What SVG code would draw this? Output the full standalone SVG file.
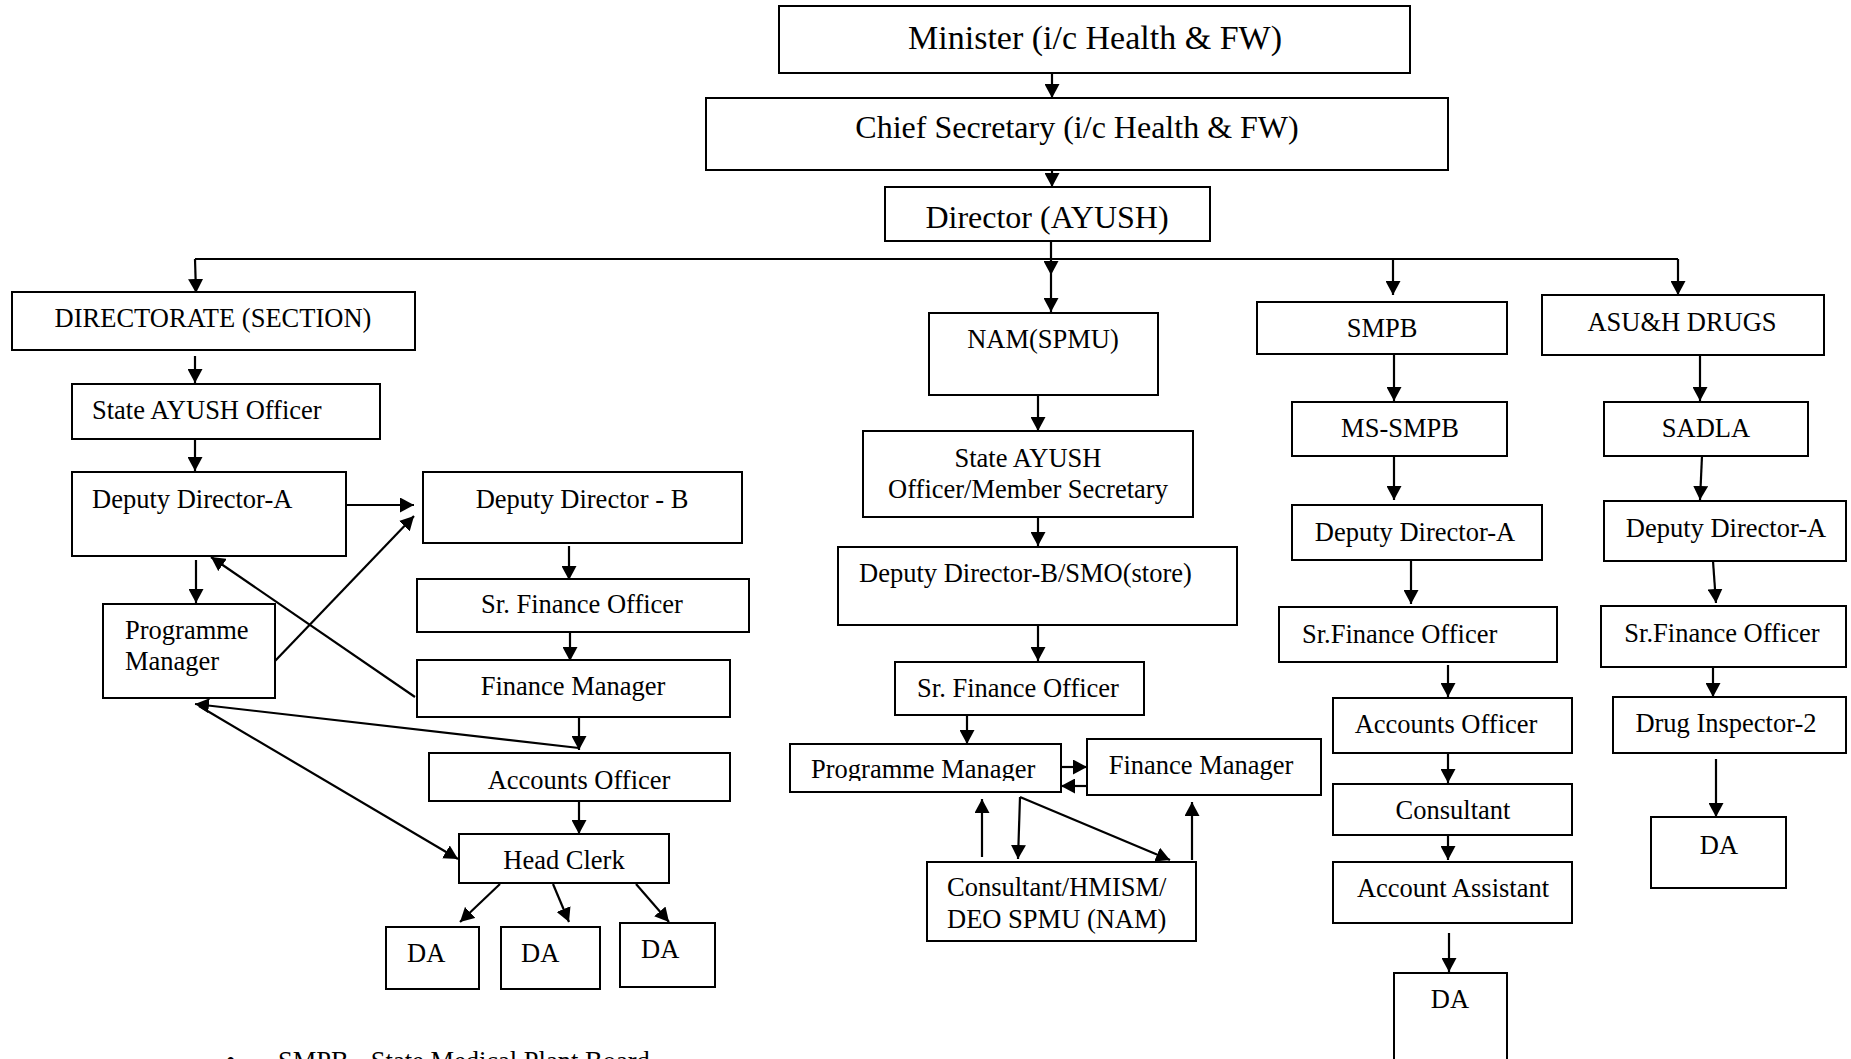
<svg xmlns="http://www.w3.org/2000/svg" width="1851" height="1059" viewBox="0 0 1851 1059">
<style>
rect.b{fill:#fff;stroke:#000;stroke-width:2}
text{font-family:"Liberation Serif","Times New Roman",serif;font-size:26.5px;fill:#000}
.c{text-anchor:middle}
#connectors path{fill:none;stroke:#000;stroke-width:2.2}
#connectors path.a{marker-end:url(#ah)}
</style>
<defs>
<marker id="ah" markerUnits="userSpaceOnUse" markerWidth="15" markerHeight="15" refX="14" refY="7.5" orient="auto">
<path d="M0,0 L14,7.5 L0,15 z" fill="#000"/>
</marker>
<clipPath id="pmclip"><rect x="790" y="744" width="271" height="37"/></clipPath>
</defs>
<rect width="1851" height="1059" fill="#fff"/>

<g id="connectors">
<path class="a" d="M1052,73 V98"/>
<path class="a" d="M1052,170 V187"/>
<path class="a" d="M1051,241 V275"/>
<path class="a" d="M1051,275 V312"/>
<path d="M195,259 H1678"/>
<path class="a" d="M195,259 L196,293"/>
<path class="a" d="M1393,259 V295"/>
<path class="a" d="M1678,259 V295"/>
<path class="a" d="M195,356 V383"/>
<path class="a" d="M195,439 V471"/>
<path class="a" d="M346,505 H414"/>
<path class="a" d="M196,560 V603"/>
<path class="a" d="M275,661 L414,516"/>
<path class="a" d="M415,697 L211,557"/>
<path class="a" d="M569,546 V580"/>
<path class="a" d="M570,632 V661"/>
<path class="a" d="M579,716 V750"/>
<path class="a" d="M579,748 L195,704"/>
<path class="a" d="M199,706 L458,859"/>
<path class="a" d="M579,801 V834"/>
<path class="a" d="M500,884 L460,922"/>
<path class="a" d="M553,884 L569,922"/>
<path class="a" d="M636,884 L669,922"/>
<path class="a" d="M1038,395 V431"/>
<path class="a" d="M1038,517 V546"/>
<path class="a" d="M1038,625 V661"/>
<path class="a" d="M967,715 V744"/>
<path class="a" d="M1061,767 H1087"/>
<path class="a" d="M1087,786 H1061"/>
<path class="a" d="M982,857 V799"/>
<path class="a" d="M1020,797 L1018,859"/>
<path class="a" d="M1020,797 L1170,860"/>
<path class="a" d="M1192,860 V802"/>
<path class="a" d="M1394,355 V401"/>
<path class="a" d="M1394,456 V500"/>
<path class="a" d="M1411,560 V604"/>
<path class="a" d="M1448,665 V697"/>
<path class="a" d="M1448,753 V783"/>
<path class="a" d="M1448,835 V860"/>
<path class="a" d="M1449,933 V972"/>
<path class="a" d="M1700,355 V401"/>
<path class="a" d="M1702,456 L1700,500"/>
<path class="a" d="M1713,561 L1716,603"/>
<path class="a" d="M1713,667 V697"/>
<path class="a" d="M1716,759 V817"/>
</g>

<g id="minister"><rect class="b" x="779" y="6" width="631" height="67"/><text class="c" x="1095" y="49" style="font-size:34px">Minister (i/c Health &amp; FW)</text></g>
<g id="chief"><rect class="b" x="706" y="98" width="742" height="72"/><text class="c" x="1077" y="138" style="font-size:32px">Chief Secretary (i/c Health &amp; FW)</text></g>
<g id="director"><rect class="b" x="885" y="187" width="325" height="54"/><text class="c" x="1047" y="228" style="font-size:32px">Director (AYUSH)</text></g>

<g id="directorate"><rect class="b" x="12" y="292" width="403" height="58"/><text class="c" x="213" y="327">DIRECTORATE (SECTION)</text></g>
<g id="sao1"><rect class="b" x="72" y="384" width="308" height="55"/><text x="92" y="419">State AYUSH Officer</text></g>
<g id="dda1"><rect class="b" x="72" y="472" width="274" height="84"/><text x="92" y="508">Deputy Director-A</text></g>
<g id="ddb1"><rect class="b" x="423" y="472" width="319" height="71"/><text class="c" x="582" y="508">Deputy Director - B</text></g>
<g id="srfo1"><rect class="b" x="417" y="579" width="332" height="53"/><text class="c" x="582" y="613">Sr. Finance Officer</text></g>
<g id="fm1"><rect class="b" x="417" y="660" width="313" height="57"/><text class="c" x="573" y="695">Finance Manager</text></g>
<g id="pm1"><rect class="b" x="103" y="604" width="172" height="94"/><text x="125" y="639">Programme</text><text x="125" y="670">Manager</text></g>
<g id="ao1"><rect class="b" x="429" y="753" width="301" height="48"/><text class="c" x="579" y="789">Accounts Officer</text></g>
<g id="hc1"><rect class="b" x="459" y="834" width="210" height="49"/><text class="c" x="564" y="869">Head Clerk</text></g>
<g id="da1"><rect class="b" x="386" y="927" width="93" height="62"/><text x="407" y="962">DA</text></g>
<g id="da2"><rect class="b" x="501" y="927" width="99" height="62"/><text x="521" y="962">DA</text></g>
<g id="da3"><rect class="b" x="620" y="923" width="95" height="64"/><text x="641" y="958">DA</text></g>

<g id="nam"><rect class="b" x="929" y="313" width="229" height="82"/><text class="c" x="1043" y="348">NAM(SPMU)</text></g>
<g id="sao2"><rect class="b" x="863" y="431" width="330" height="86"/><text class="c" x="1028" y="467">State AYUSH</text><text class="c" x="1028" y="498">Officer/Member Secretary</text></g>
<g id="ddb2"><rect class="b" x="838" y="547" width="399" height="78"/><text x="859" y="582">Deputy Director-B/SMO(store)</text></g>
<g id="srfo2"><rect class="b" x="895" y="662" width="249" height="53"/><text class="c" x="1018" y="697">Sr. Finance Officer</text></g>
<g id="pm2"><rect class="b" x="790" y="744" width="271" height="48"/><text x="811" y="778" clip-path="url(#pmclip)">Programme Manager</text></g>
<g id="fm2"><rect class="b" x="1087" y="739" width="234" height="56"/><text class="c" x="1201" y="774">Finance Manager</text></g>
<g id="cons2"><rect class="b" x="927" y="862" width="269" height="79"/><text x="947" y="896">Consultant/HMISM/</text><text x="947" y="928">DEO SPMU (NAM)</text></g>

<g id="smpb"><rect class="b" x="1257" y="302" width="250" height="52"/><text class="c" x="1382" y="337">SMPB</text></g>
<g id="mssmpb"><rect class="b" x="1292" y="402" width="215" height="54"/><text class="c" x="1400" y="437">MS-SMPB</text></g>
<g id="dda3"><rect class="b" x="1292" y="505" width="250" height="55"/><text class="c" x="1415" y="541">Deputy Director-A</text></g>
<g id="srfo3"><rect class="b" x="1279" y="607" width="278" height="55"/><text x="1302" y="643">Sr.Finance Officer</text></g>
<g id="ao3"><rect class="b" x="1333" y="698" width="239" height="55"/><text class="c" x="1446" y="733">Accounts Officer</text></g>
<g id="cons3"><rect class="b" x="1333" y="784" width="239" height="51"/><text class="c" x="1453" y="819">Consultant</text></g>
<g id="accasst"><rect class="b" x="1333" y="862" width="239" height="61"/><text class="c" x="1453" y="897">Account Assistant</text></g>
<g id="da4"><rect class="b" x="1394" y="973" width="113" height="100"/><text class="c" x="1450" y="1008">DA</text></g>

<g id="asu"><rect class="b" x="1542" y="295" width="282" height="60"/><text class="c" x="1682" y="331">ASU&amp;H DRUGS</text></g>
<g id="sadla"><rect class="b" x="1604" y="402" width="204" height="54"/><text class="c" x="1706" y="437">SADLA</text></g>
<g id="dda4"><rect class="b" x="1604" y="501" width="242" height="60"/><text class="c" x="1726" y="537">Deputy Director-A</text></g>
<g id="srfo4"><rect class="b" x="1601" y="606" width="245" height="61"/><text class="c" x="1722" y="642">Sr.Finance Officer</text></g>
<g id="di"><rect class="b" x="1613" y="697" width="233" height="56"/><text class="c" x="1726" y="732">Drug Inspector-2</text></g>
<g id="da5"><rect class="b" x="1651" y="817" width="135" height="71"/><text class="c" x="1719" y="854">DA</text></g>

<g id="footnote"><text x="226" y="1070">•</text><text x="278" y="1070">SMPB - State Medical Plant Board</text></g>
</svg>
